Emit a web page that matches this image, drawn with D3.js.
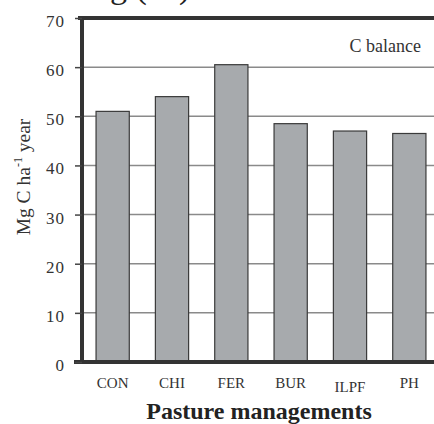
<!DOCTYPE html>
<html><head><meta charset="utf-8">
<script src="https://cdn.jsdelivr.net/npm/d3@7"></script>
<style>body{margin:0;background:#fff}svg{display:block}</style>
</head><body>
<script>
const categories = ["CON","CHI","FER","BUR","ILPF","PH"];
const values = [51, 54, 60.5, 48.5, 47, 46.5];
const yTicks = [0,10,20,30,40,50,60,70];

const W = 434, H = 424;
const svg = d3.select("body").append("svg").attr("width", W).attr("height", H);
const font = "'Liberation Serif', 'DejaVu Serif', serif";

const x = d3.scaleBand().domain(categories).range([83, 439]).paddingInner(0.44).paddingOuter(0.22);
const y = d3.scaleLinear().domain([0, 70]).range([362, 18]);

// cropped title fragment (cut off at the top, as in the reference)
svg.append("text").attr("x", 110).attr("y", -2).attr("font-family", font).attr("font-size", 34)
  .attr("fill", "#222").text("g (ha)");

// gridlines
svg.append("g").selectAll("line").data(yTicks.filter(d => d > 0 && d < 70)).join("line")
  .attr("x1", 82).attr("x2", W).attr("y1", d => y(d)).attr("y2", d => y(d))
  .attr("stroke", "#8a8a8a").attr("stroke-width", 1.5);

// bars
svg.append("g").selectAll("rect").data(values).join("rect")
  .attr("x", (d, i) => x(categories[i])).attr("width", x.bandwidth())
  .attr("y", d => y(d)).attr("height", d => y(0) - y(d))
  .attr("fill", "#a7aaad").attr("stroke", "#3a3a3a").attr("stroke-width", 1.2);

// axis frame
svg.append("line").attr("x1", 82).attr("x2", 82).attr("y1", y(70) - 2).attr("y2", y(0) + 2)
  .attr("stroke", "#333").attr("stroke-width", 4);
svg.append("line").attr("x1", 78).attr("x2", W).attr("y1", y(70)).attr("y2", y(70))
  .attr("stroke", "#333").attr("stroke-width", 4);
svg.append("line").attr("x1", 74).attr("x2", W).attr("y1", y(0)).attr("y2", y(0))
  .attr("stroke", "#333").attr("stroke-width", 4);

// y ticks and labels
const yAxis = d3.axisLeft(y).tickValues(yTicks).tickSize(7).tickPadding(10).tickFormat(d3.format("d"));
const ga = svg.append("g").attr("transform", "translate(82,0)").call(yAxis);
ga.attr("font-family", null);
ga.select(".domain").remove();
ga.selectAll(".tick line").attr("stroke", "#444").attr("stroke-width", 1.5);
ga.selectAll(".tick text").style("font-family", font).attr("font-size", 17).attr("fill", "#333")
  .attr("letter-spacing", 1).attr("dy", "0.5em");

// x labels
const xAxis = d3.axisBottom(x).tickSize(0).tickPadding(0);
const gx = svg.append("g").attr("transform", "translate(0,377)").call(xAxis);
gx.attr("font-family", null);
gx.select(".domain").remove();
gx.selectAll(".tick text").style("font-family", font).attr("font-size", 15).attr("fill", "#333")
  .attr("dy", d => d === "ILPF" ? "1.0em" : "0.75em");

// axis titles
svg.append("text").attr("x", 259).attr("y", 419).attr("text-anchor", "middle")
  .attr("font-family", font).attr("font-size", 24).attr("font-weight", "bold").attr("fill", "#222")
  .text("Pasture managements");

const yt = svg.append("text").attr("transform", "translate(30,177) rotate(-90)").attr("text-anchor", "middle")
  .attr("font-family", font).attr("font-size", 19.5).attr("fill", "#333");
yt.append("tspan").text("Mg C ha");
yt.append("tspan").attr("font-size", 12).attr("dy", -8).text("-1");
yt.append("tspan").attr("dy", 8).text(" year");

svg.append("text").attr("x", 421).attr("y", 52).attr("text-anchor", "end")
  .attr("font-family", font).attr("font-size", 18).attr("fill", "#333").text("C balance");
</script>
</body></html>
